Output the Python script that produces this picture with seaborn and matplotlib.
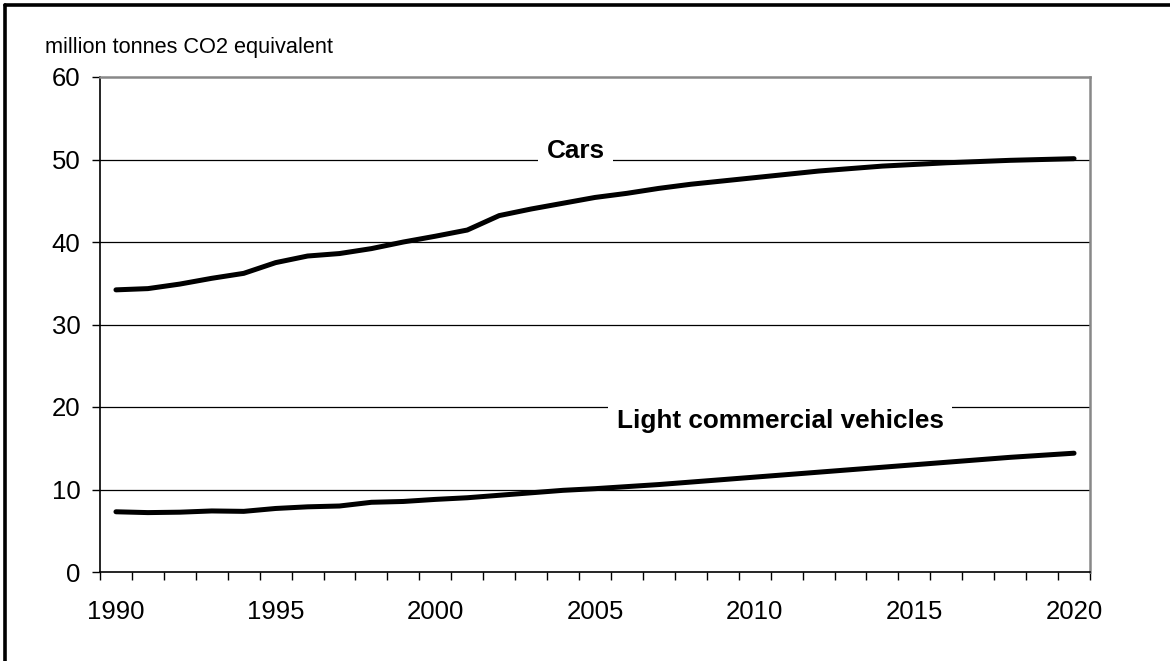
import matplotlib
matplotlib.use("Agg")
import matplotlib.pyplot as plt
from matplotlib.lines import Line2D
import seaborn as sns
import pandas as pd
import numpy as np

years = list(range(1990, 2021))
cars = [34.2, 34.35, 34.9, 35.6, 36.2, 37.5, 38.3, 38.6, 39.2, 40.0,
        40.7, 41.45, 43.2, 44.0, 44.7, 45.4, 45.9, 46.5, 47.0, 47.4,
        47.8, 48.2, 48.6, 48.9, 49.2, 49.4, 49.6, 49.75, 49.9, 50.0, 50.1]
lcv = [7.3, 7.2, 7.25, 7.4, 7.35, 7.7, 7.9, 8.0, 8.45, 8.55,
       8.8, 9.0, 9.3, 9.6, 9.9, 10.1, 10.35, 10.6, 10.9, 11.2,
       11.5, 11.8, 12.1, 12.4, 12.7, 13.0, 13.3, 13.6, 13.9, 14.15, 14.4]
series_names = ["Cars", "Light commercial vehicles"]
y_ticks = [0, 10, 20, 30, 40, 50, 60]
x_label_years = [1990, 1995, 2000, 2005, 2010, 2015, 2020]
y_title = "million tonnes CO2 equivalent"

df = pd.DataFrame({
    "year": years * 2,
    "value": cars + lcv,
    "series": [series_names[0]] * len(years) + [series_names[1]] * len(years),
})

sns.set_theme(style="white")
plt.rcParams["font.family"] = ["Liberation Sans", "DejaVu Sans"]
plt.rcParams["text.color"] = "black"
plt.rcParams["xtick.color"] = "black"
plt.rcParams["ytick.color"] = "black"

W, H = 1170, 661
fig = plt.figure(figsize=(W / 100, H / 100), dpi=100)
ax = fig.add_axes([100 / W, 1 - 572 / H, 990 / W, 495 / H])

sns.lineplot(data=df, x="year", y="value", hue="series",
             palette=["black", "black"], linewidth=3.6, legend=False,
             ax=ax, solid_capstyle="round")

ax.set_xlim(years[0] - 0.5, years[-1] + 0.5)
ax.set_ylim(y_ticks[0], y_ticks[-1])
ax.set_xlabel("")
ax.set_ylabel("")

# gridlines
for v in y_ticks[1:-1]:
    ax.axhline(v, color="black", linewidth=0.9, zorder=0.5)

ax.set_yticks(y_ticks)
ax.set_yticklabels([str(v) for v in y_ticks], fontsize=18.5, color="black")
ax.tick_params(axis="y", direction="out", length=6, width=1, color="black",
               pad=8, left=True)

ax.set_xticks(x_label_years)
ax.set_xticklabels([str(v) for v in x_label_years], fontsize=18.5, color="black")
ax.set_xticks(np.arange(years[0] - 0.5, years[-1] + 1.0, 1.0), minor=True)
ax.tick_params(axis="x", which="major", length=0, pad=20, bottom=True)
ax.tick_params(axis="x", which="minor", direction="out", length=6, width=1,
               color="black", bottom=True)

for side in ["left", "bottom"]:
    ax.spines[side].set_color("black")
    ax.spines[side].set_linewidth(1.2)
for side in ["top", "right"]:
    ax.spines[side].set_visible(True)
    ax.spines[side].set_color("#888888")
    ax.spines[side].set_linewidth(1.8)

# series labels with white boxes over the gridlines
ax.text(2004.4, 51.0, series_names[0], fontsize=18.8, fontweight="bold",
        ha="center", va="center", zorder=5, color="black",
        bbox=dict(facecolor="white", edgecolor="none", pad=6))
ax.text(2010.8, 18.3, series_names[1], fontsize=18.8, fontweight="bold",
        ha="center", va="center", zorder=5, color="black",
        bbox=dict(facecolor="white", edgecolor="none", pad=6))

fig.text(45 / W, 1 - 48 / H, y_title, fontsize=15.7, ha="left", va="center",
         color="black")

# outer frame (left and top edges visible)
fig.add_artist(Line2D([5 / W, 5 / W], [0, 1 - 5 / H], color="black",
                      linewidth=2.6, transform=fig.transFigure))
fig.add_artist(Line2D([5 / W, 1], [1 - 5 / H, 1 - 5 / H], color="black",
                      linewidth=2.6, transform=fig.transFigure))

fig.savefig("out.png", dpi=100)
